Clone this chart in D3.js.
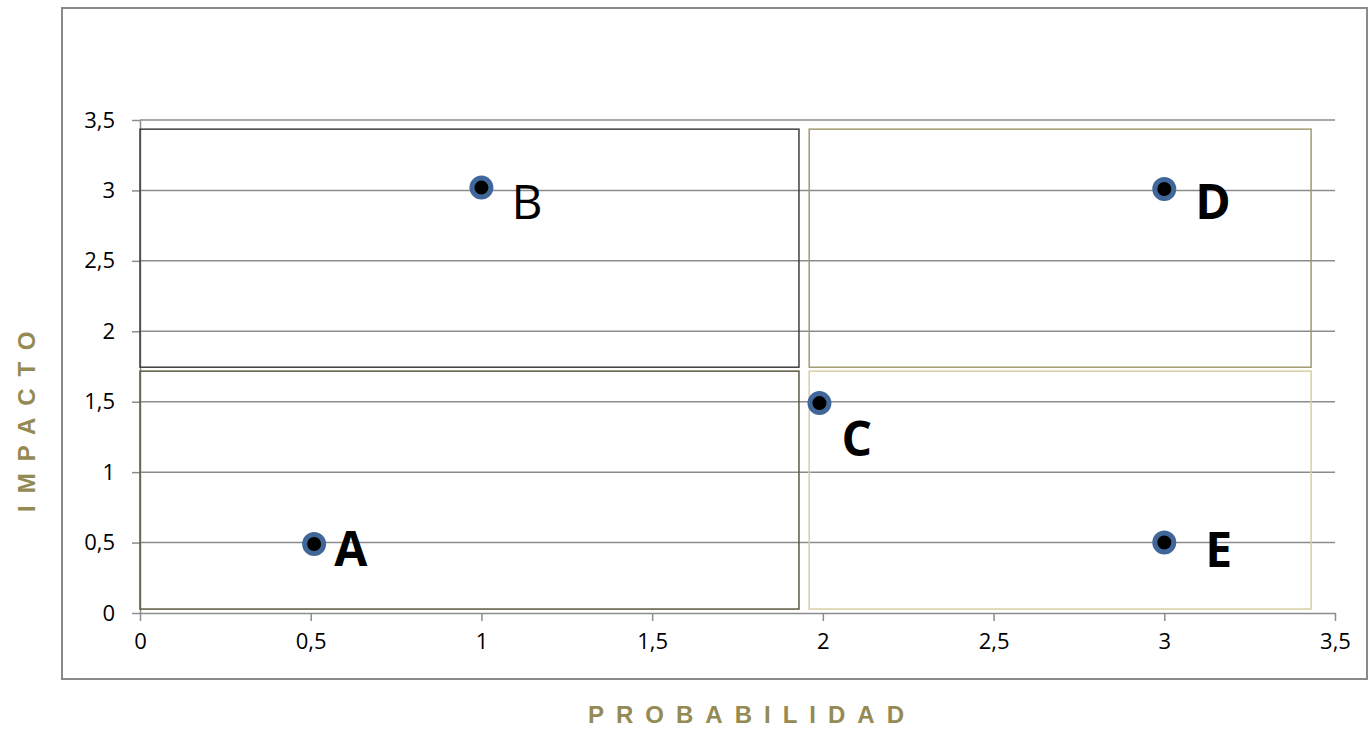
<!DOCTYPE html>
<html>
<head>
<meta charset="utf-8">
<script src="https://cdn.jsdelivr.net/npm/d3@7"></script>
<style>
  body { margin: 0; background: #fff; }
</style>
</head>
<body>
<div id="chart"></div>
<script>
// risk points (probabilidad, impacto)
const names = ["A", "B", "C", "D", "E"];
const probabilidad = [0.51, 1.0, 1.99, 3.0, 3.0];
const impacto = [0.49, 3.02, 1.49, 3.01, 0.5];

const tickValues = [0, 0.5, 1, 1.5, 2, 2.5, 3, 3.5];
const tickLabels = ["0", "0,5", "1", "1,5", "2", "2,5", "3", "3,5"];

// quadrant boxes, in data units
const zoneX0 = [0, 0, 1.96, 1.96];
const zoneX1 = [1.93, 1.93, 3.43, 3.43];
const zoneY0 = [1.745, 0.028, 1.745, 0.028];
const zoneY1 = [3.435, 1.717, 3.435, 1.717];

const width = 1372, height = 730;
const svg = d3.select("#chart").append("svg")
  .attr("width", width).attr("height", height);

const x = d3.scaleLinear().domain([0, 3.5]).range([140, 1335]);
const y = d3.scaleLinear().domain([0, 3.5]).range([613, 120]);
const fmt = d => tickLabels[tickValues.indexOf(d)];

// outer frame
svg.append("rect")
  .attr("x", 62).attr("y", 8).attr("width", 1305).attr("height", 671)
  .attr("fill", "none").attr("stroke", "#8a8a8a").attr("stroke-width", 2);

// gridlines
svg.append("g").selectAll("line").data(tickValues.slice(1)).join("line")
  .attr("x1", x(0)).attr("x2", x(3.5))
  .attr("y1", d => y(d)).attr("y2", d => y(d))
  .attr("stroke", "#8c8c8c").attr("stroke-width", 1.5);

// axes
const yAxis = svg.append("g").attr("transform", `translate(${x(0)},0)`)
  .call(d3.axisLeft(y).tickValues(tickValues).tickFormat(fmt)
    .tickSize(8).tickSizeOuter(0).tickPadding(17));
const xAxis = svg.append("g").attr("transform", `translate(0,${y(0)})`)
  .call(d3.axisBottom(x).tickValues(tickValues).tickFormat(fmt)
    .tickSize(8).tickSizeOuter(0).tickPadding(12));
[xAxis, yAxis].forEach(g => {
  g.selectAll("path, line").attr("stroke", "#8c8c8c").attr("stroke-width", 1.5);
  g.selectAll("text").attr("fill", "#000")
    .style("font-family", "'Open Sans', sans-serif").style("font-size", "22px");
});

// quadrant boxes
const zoneColors = ["#3e3e3e", "#5b5840", "#a39a70", "#d8cea2"];
svg.append("g").selectAll("rect").data(zoneX0).join("rect")
  .attr("x", (d, i) => x(zoneX0[i]))
  .attr("y", (d, i) => y(zoneY1[i]))
  .attr("width", (d, i) => x(zoneX1[i]) - x(zoneX0[i]))
  .attr("height", (d, i) => y(zoneY0[i]) - y(zoneY1[i]))
  .attr("fill", "none").attr("stroke", (d, i) => zoneColors[i]).attr("stroke-width", 1.5);

// points
const pts = names.map((n, i) => ({ name: n, px: probabilidad[i], im: impacto[i] }));
svg.append("g").selectAll("circle").data(pts).join("circle")
  .attr("cx", d => x(d.px)).attr("cy", d => y(d.im)).attr("r", 9.5)
  .attr("fill", "#000").attr("stroke", "#41679a").attr("stroke-width", 5);

// point labels
const labelOffsets = [[20, 22], [30, 31], [22, 53], [31, 30], [41, 24]];
const labelWeights = ["bold", "normal", "bold", "bold", "bold"];
svg.append("g").selectAll("text").data(pts).join("text")
  .attr("x", (d, i) => x(d.px) + labelOffsets[i][0])
  .attr("y", (d, i) => y(d.im) + labelOffsets[i][1])
  .style("font-family", "'Open Sans', sans-serif").style("font-size", "48px")
  .style("font-weight", (d, i) => labelWeights[i])
  .text(d => d.name);

// axis titles
const titleStyle = t => t.attr("fill", "#948a54")
  .style("font-family", "'Liberation Sans', Arial, sans-serif")
  .style("font-size", "24px").style("font-weight", "bold").style("letter-spacing", "12px");
svg.append("text").attr("x", 588).attr("y", 723).text("PROBABILIDAD").call(titleStyle);
svg.append("text").attr("transform", "translate(35,512) rotate(-90)").text("IMPACTO").call(titleStyle);
</script>
</body>
</html>
